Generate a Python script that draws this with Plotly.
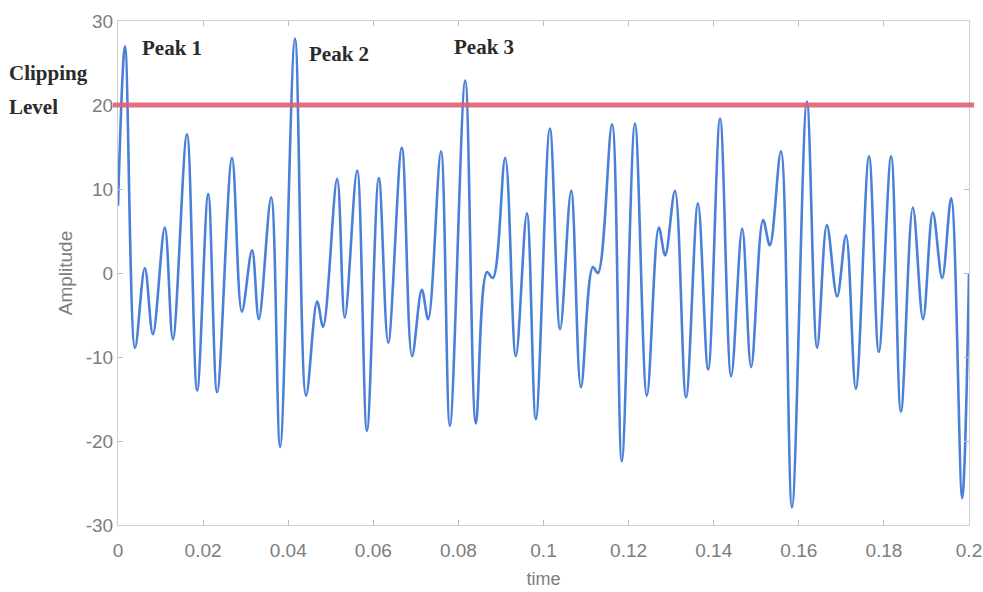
import plotly.graph_objects as go

# Signal extrema (time in s, amplitude) traced in order; drawn as a smooth spline
time_pts = [
    0.0000, 0.00165, 0.0040, 0.0063, 0.0082, 0.0110, 0.0129, 0.0162, 0.0186, 0.0212,
    0.0233, 0.0268, 0.0291, 0.0315, 0.0331, 0.0360, 0.0381, 0.0416, 0.0442, 0.0468,
    0.0482, 0.0515, 0.0533, 0.0562, 0.0585, 0.0613, 0.0635, 0.0667, 0.0691, 0.0714,
    0.0729, 0.0759, 0.0780, 0.0816, 0.0841, 0.0867, 0.0881, 0.0910, 0.0935, 0.0961,
    0.0982, 0.1015, 0.1039, 0.1065, 0.1088, 0.1116, 0.1128, 0.1161, 0.1184, 0.1215,
    0.1243, 0.1271, 0.1286, 0.1309, 0.1335, 0.1363, 0.1387, 0.1415, 0.1441, 0.1467,
    0.1488, 0.1516, 0.1532, 0.1558, 0.1584, 0.1619, 0.1643, 0.1666, 0.1690, 0.1711,
    0.1734, 0.1765, 0.1788, 0.1817, 0.1840, 0.1868, 0.1892, 0.1915, 0.1937, 0.1958,
    0.1984, 0.2000,
]
amplitude = [
    8.0, 27.0, -8.9, 0.6, -7.3, 5.4, -7.9, 16.5, -14.0, 9.4,
    -14.2, 13.7, -4.6, 2.7, -5.5, 9.0, -20.7, 27.9, -14.6, -3.4,
    -6.4, 11.2, -5.3, 12.2, -18.8, 11.3, -8.3, 14.9, -9.9, -2.0,
    -5.5, 14.5, -18.2, 22.9, -17.9, 0.1, -0.6, 13.7, -9.9, 7.1,
    -17.4, 17.2, -6.7, 9.8, -13.6, 0.7, 0.0, 17.7, -22.4, 17.8,
    -14.6, 5.4, 2.1, 9.8, -14.8, 8.3, -11.5, 18.4, -12.3, 5.3,
    -11.2, 6.3, 3.3, 14.5, -27.9, 20.4, -8.9, 5.7, -2.8, 4.5,
    -13.8, 13.9, -9.4, 13.9, -16.5, 7.8, -5.5, 7.2, -0.6, 8.9,
    -26.8, 0.0,
]

CLIP_LEVEL = 20

x_tick_vals = [0, 0.02, 0.04, 0.06, 0.08, 0.1, 0.12, 0.14, 0.16, 0.18, 0.2]
x_tick_text = ["0", "0.02", "0.04", "0.06", "0.08", "0.1", "0.12", "0.14", "0.16", "0.18", "0.2"]
y_tick_vals = [-30, -20, -10, 0, 10, 20, 30]
y_tick_text = ["-30", "-20", "-10", "0", "10", "20", "30"]

# Peak labels: (text, time, amplitude) anchors
peak_labels = [("Peak 1", 0.0052, 26.8), ("Peak 2", 0.0444, 26.1), ("Peak 3", 0.0785, 26.9)]

tick_font = dict(family="Liberation Sans Narrow, Arial Narrow, Liberation Sans, Arial",
                 size=19, color="#7d7d7d")
label_font = dict(family="Liberation Serif, Times New Roman, serif", size=21, color="#2b2b2b")

fig = go.Figure()
fig.add_trace(go.Scatter(
    x=time_pts, y=amplitude, mode="lines",
    line=dict(color="#4a80d8", width=2.6, shape="spline", smoothing=1.0),
    showlegend=False, hoverinfo="skip",
))

# Clipping level line
fig.add_shape(type="line", xref="paper", yref="y", x0=-0.006, x1=1.006,
              y0=CLIP_LEVEL, y1=CLIP_LEVEL,
              line=dict(color="rgba(221,96,116,0.9)", width=5), layer="above")

annotations = []
for text, tx, ty in peak_labels:
    annotations.append(dict(x=tx, y=ty, xref="x", yref="y", text=f"<b>{text}</b>",
                            showarrow=False, xanchor="left", yanchor="middle", font=label_font))
annotations.append(dict(x=-0.13, y=23.8, xref="paper", yref="y", text="<b>Clipping</b>",
                        showarrow=False, xanchor="left", yanchor="middle", font=label_font))
annotations.append(dict(x=-0.13, y=19.8, xref="paper", yref="y", text="<b>Level</b>",
                        showarrow=False, xanchor="left", yanchor="middle", font=label_font))

axis_common = dict(showgrid=False, zeroline=False, showline=True, linecolor="#cfcfcf",
                   linewidth=1, mirror="ticks", ticks="inside", ticklen=5,
                   tickcolor="#bdbdbd", tickfont=tick_font, automargin=False)

fig.update_layout(
    width=983, height=592,
    margin=dict(l=118, r=14, t=21, b=67),
    paper_bgcolor="white", plot_bgcolor="white",
    xaxis=dict(range=[0, 0.2], tickmode="array", tickvals=x_tick_vals, ticktext=x_tick_text,
               ticklabelstandoff=8,
               title=dict(text="time", font=dict(family="Liberation Sans, Arial", size=18,
                                                   color="#7d7d7d"), standoff=12),
               **axis_common),
    yaxis=dict(range=[-30, 30], tickmode="array", tickvals=y_tick_vals, ticktext=y_tick_text,
               title=dict(text="Amplitude", font=dict(family="Liberation Sans, Arial", size=19,
                                                        color="#7d7d7d"), standoff=8),
               **axis_common),
    annotations=annotations,
)

fig.write_html("out.html", config={"displayModeBar": False})
